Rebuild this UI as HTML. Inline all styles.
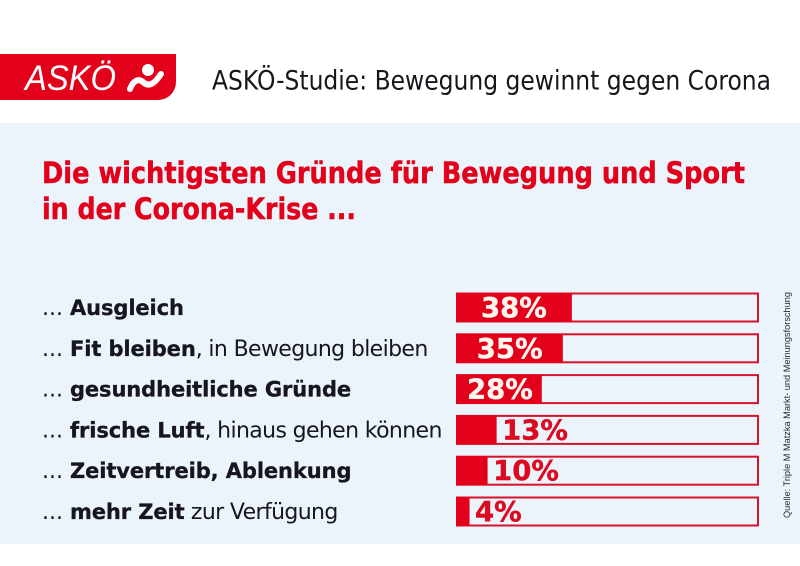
<!DOCTYPE html>
<html lang="de">
<head>
<meta charset="utf-8">
<title>ASKÖ-Studie</title>
<style>
html,body{margin:0;padding:0;background:#fff;}
svg{display:block;}
text{font-family:"DejaVu Sans","Liberation Sans",sans-serif;}
</style>
</head>
<body>
<svg id="chart" xmlns="http://www.w3.org/2000/svg" width="800" height="566" viewBox="0 0 800 566">
  <rect x="0" y="0" width="800" height="566" fill="#ffffff"/>
  <rect x="0" y="123" width="800" height="421" fill="#ebf4fb"/>
  <path d="M0 54H176V82A18 18 0 0 1 158 100H0Z" fill="#e2001a"/>
  <text x="25" y="90" font-size="35" font-style="italic" fill="#ffffff" textLength="91" lengthAdjust="spacingAndGlyphs" style="font-family:'Liberation Sans',sans-serif">ASKÖ</text>
  <g>
    <circle cx="148" cy="70" r="6" fill="#ffffff"/>
    <path d="M130 89C133 81 138 78 143 82C149 88 155 83 161 74" fill="none" stroke="#ffffff" stroke-width="6" stroke-linecap="round"/>
  </g>
  <text x="212" y="89.5" font-size="26.5" fill="#16161c" textLength="559" lengthAdjust="spacingAndGlyphs">ASKÖ-Studie: Bewegung gewinnt gegen Corona</text>
  <text x="42" y="183" font-size="29" font-weight="700" fill="#e2001a" stroke="#e2001a" stroke-width="0.5" textLength="703" lengthAdjust="spacingAndGlyphs">Die wichtigsten Gründe für Bewegung und Sport</text>
  <text x="42" y="219" font-size="29" font-weight="700" fill="#e2001a" stroke="#e2001a" stroke-width="0.5" textLength="314" lengthAdjust="spacingAndGlyphs">in der Corona-Krise ...</text>
  <text transform="translate(790 518) rotate(-90)" font-size="9.5" fill="#2a2a30" textLength="226" lengthAdjust="spacingAndGlyphs" style="font-family:'Liberation Sans',sans-serif">Quelle: Triple M Matzka Markt- und Meinungsforschung</text>
  <g id="rows"></g>
</svg>
<script>
const categoriesBold = ["Ausgleich", "Fit bleiben", "gesundheitliche Gründe", "frische Luft", "Zeitvertreib, Ablenkung", "mehr Zeit"];
const categoriesRest = ["", ", in Bewegung bleiben", "", ", hinaus gehen können", "", " zur Verfügung"];
const seriesValues = [38, 35, 28, 13, 10, 4];
const valueLabels = ["38%", "35%", "28%", "13%", "10%", "4%"];

const NS = "http://www.w3.org/2000/svg";
const rows = document.getElementById("rows");
const axisLeft = 457, axisWidth = 301, axisMax = 100;
const barHeight = 28;
function xScale(v) { return axisWidth * v / axisMax; }
function rowTop(i) { return 293.5 + i * 40.8; }
function labelX(v) {
  const end = axisLeft + xScale(v);
  return v >= 20 ? axisLeft + 10 + (v - 28) * 1.4 : end + 6;
}
function make(tag, attrs) {
  const el = document.createElementNS(NS, tag);
  for (const k in attrs) el.setAttribute(k, attrs[k]);
  return el;
}
seriesValues.forEach(function (v, i) {
  const top = rowTop(i);
  const label = make("text", { x: 42, y: top + 21.5, "font-size": 22, fill: "#16161c" });
  
  
  label.style.whiteSpace = "pre";
  const dots = make("tspan", {});
  dots.textContent = "... ";
  label.appendChild(dots);
  const bold = make("tspan", { "font-weight": 700, "font-size": 21, stroke: "#16161c", "stroke-width": 0.3 });
  bold.style.letterSpacing = "-0.1px";
  bold.textContent = categoriesBold[i];
  label.appendChild(bold);
  const rest = make("tspan", {});
  rest.style.letterSpacing = "-0.63px";
  rest.textContent = categoriesRest[i];
  label.appendChild(rest);
  rows.appendChild(label);

  const track = make("rect", { x: axisLeft, y: top, width: axisWidth, height: barHeight, fill: "#ebf4fb", stroke: "#d8122c", "stroke-width": 2 });
  
  
  rows.appendChild(track);

  const fill = make("rect", { x: axisLeft, y: top, width: xScale(v), height: barHeight, fill: "#e2001a", stroke: "#e2001a", "stroke-width": 1 });
  
  
  rows.appendChild(fill);

  const value = make("text", { x: labelX(v), y: top + 23.5, "font-size": 27.5, "font-weight": 700, stroke: v >= 20 ? "#fff6ee" : "#dc0a20", "stroke-width": 0.4, fill: v >= 20 ? "#fff6ee" : "#dc0a20" });
  
  
  value.textContent = valueLabels[i];
  rows.appendChild(value);
});
</script>
</body>
</html>
